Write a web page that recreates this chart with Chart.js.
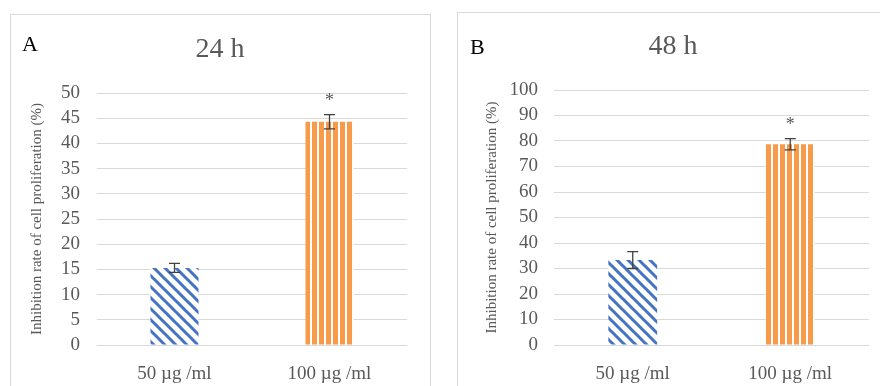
<!DOCTYPE html>
<html>
<head>
<meta charset="utf-8">
<script src="https://cdn.jsdelivr.net/npm/chart.js@4.4.1/dist/chart.umd.min.js"></script>
<style>
  body { margin: 0; background: #fff; width: 880px; height: 386px; overflow: hidden; position: relative; }
  .panel { position: absolute; border: 1px solid #d9d9d9; background: #fff; }
  #panelA { left: 10px; top: 14px; width: 419px; height: 380px; }
  #panelB { left: 457px; top: 12px; width: 430px; height: 380px; }
  canvas { position: absolute; left: 0; top: 0; }
</style>
</head>
<body>
<div class="panel" id="panelA"><canvas id="chartA" width="419" height="371"></canvas></div>
<div class="panel" id="panelB"><canvas id="chartB" width="422" height="373"></canvas></div>
<script>
// data
const doses = ["50 \u00b5g /ml", "100 \u00b5g /ml"];
const values24h = [15.3, 44.3];
const errors24h = [0.9, 1.4];
const values48h = [33.3, 78.7];
const errors48h = [3.3, 2.2];
const significant = [false, true];
const ticks24h = { max: 50, step: 5 };
const ticks48h = { max: 100, step: 10 };

const serif = "'Liberation Serif', 'Times New Roman', serif";
const gray = "#595959";

function hatchPattern() {
    const c = document.createElement("canvas");
    c.width = 11; c.height = 11;
    const g = c.getContext("2d");
    g.fillStyle = "#fff";
    g.fillRect(0, 0, 11, 11);
    g.strokeStyle = "#4472c4";
    g.lineWidth = 3;
    g.beginPath();
    for (let k = -11; k <= 11; k += 11) {
        g.moveTo(k - 2, -2);
        g.lineTo(k + 13, 13);
    }
    g.stroke();
    return g.createPattern(c, "repeat");
}

function stripePattern() {
    const c = document.createElement("canvas");
    c.width = 7; c.height = 7;
    const g = c.getContext("2d");
    g.fillStyle = "#fff";
    g.fillRect(0, 0, 7, 7);
    g.fillStyle = "#f79a4a";
    g.fillRect(0, 0, 5, 7);
    return g.createPattern(c, "repeat");
}

// error bars, asterisks, panel letter and title
const extras = {
    id: "extras",
    afterDatasetsDraw(chart, args, opts) {
        const ctx = chart.ctx;
        const y = chart.scales.y;
        const meta = chart.getDatasetMeta(0);
        ctx.save();
        ctx.strokeStyle = "#404040";
        ctx.lineWidth = 1.3;
        opts.values.forEach((v, i) => {
            const x = meta.data[i].x;
            const top = y.getPixelForValue(v + opts.errors[i]);
            const bot = y.getPixelForValue(v - opts.errors[i]);
            ctx.beginPath();
            ctx.moveTo(x, top); ctx.lineTo(x, bot);
            ctx.moveTo(x - 5.5, top); ctx.lineTo(x + 5.5, top);
            ctx.moveTo(x - 5.5, bot); ctx.lineTo(x + 5.5, bot);
            ctx.stroke();
            if (significant[i]) {
                ctx.fillStyle = gray;
                ctx.font = "18px " + serif;
                ctx.textAlign = "center";
                ctx.textBaseline = "middle";
                ctx.fillText("*", x, top - 13);
            }
        });
        ctx.fillStyle = "#000";
        ctx.font = "22px " + serif;
        ctx.textAlign = "left";
        ctx.textBaseline = "middle";
        ctx.fillText(opts.letter, opts.letterX, opts.letterY);
        ctx.fillStyle = gray;
        ctx.font = "28px " + serif;
        ctx.textAlign = "center";
        ctx.fillText(opts.title, opts.titleX, opts.titleY);
        ctx.restore();
    }
};

function makeChart(id, values, errors, tk, p) {
    new Chart(document.getElementById(id), {
        type: "bar",
        data: {
            labels: doses,
            datasets: [{
                data: values,
                backgroundColor: [hatchPattern(), stripePattern()],
                borderWidth: 0,
                categoryPercentage: 1,
                barPercentage: 0.31
            }]
        },
        options: {
            responsive: false,
            animation: false,
            events: [],
            layout: { padding: { left: p.padLeft, right: p.padRight, top: p.padTop, bottom: 0 } },
            plugins: {
                legend: { display: false },
                tooltip: { enabled: false },
                extras: {
                    values: values, errors: errors,
                    letter: p.letter, letterX: p.letterX, letterY: p.letterY,
                    title: p.title, titleX: p.titleX, titleY: p.titleY
                }
            },
            scales: {
                x: {
                    grid: { display: false },
                    border: { display: false },
                    ticks: { color: gray, font: { family: serif, size: 19 }, padding: 10 },
                    afterFit: s => { s.height = p.xHeight; }
                },
                y: {
                    min: 0, max: tk.max,
                    grid: { color: "#d9d9d9", drawTicks: false },
                    border: { display: false },
                    ticks: {
                        stepSize: tk.step, autoSkip: false,
                        color: gray, font: { family: serif, size: 19, lineHeight: 1 }, padding: p.tickGap
                    },
                    title: {
                        display: true,
                        text: "Inhibition rate of cell proliferation (%)",
                        color: gray,
                        font: { family: serif, size: 15 },
                        padding: 0
                    },
                    afterFit: s => { s.width = p.yWidth; }
                }
            }
        },
        plugins: [extras]
    });
}

makeChart("chartA", values24h, errors24h, ticks24h, {
    padLeft: 17, yWidth: 69, padRight: 23, padTop: 78, xHeight: 41, tickGap: 17,
    letter: "A", letterX: 11, letterY: 30, title: "24 h", titleX: 209, titleY: 35
});
makeChart("chartB", values48h, errors48h, ticks48h, {
    padLeft: 25, yWidth: 71, padRight: 11, padTop: 77, xHeight: 41, tickGap: 16,
    letter: "B", letterX: 12, letterY: 35, title: "48 h", titleX: 215, titleY: 34
});
</script>
</body>
</html>
